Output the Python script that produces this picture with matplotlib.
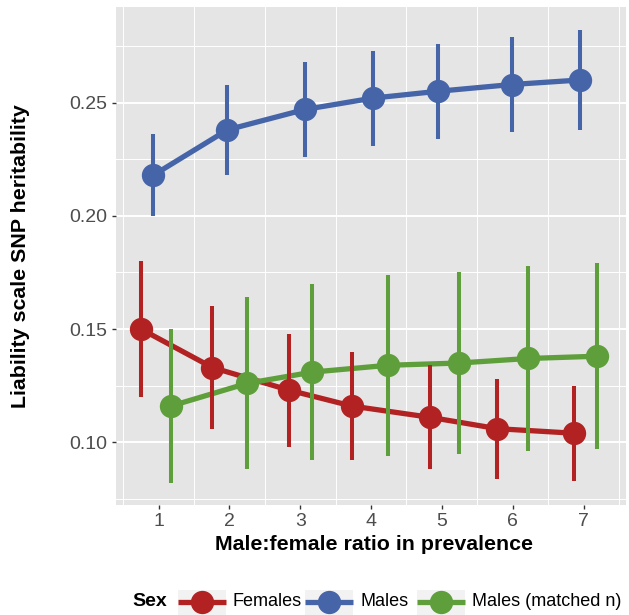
import numpy as np
import matplotlib.pyplot as plt
from matplotlib.patches import Rectangle

plt.rcParams['font.family'] = ['Liberation Sans', 'DejaVu Sans']

# ratio categories and the (jittered) x positions of each series
ratios = [1, 2, 3, 4, 5, 6, 7]
x_females = [0.752, 1.762, 2.845, 3.730, 4.839, 5.785, 6.863]
x_males = [0.929, 1.974, 3.071, 4.026, 4.943, 5.986, 6.952]
x_matched = [1.175, 2.248, 3.174, 4.238, 5.244, 6.214, 7.188]

# liability scale SNP heritability estimates with interval ends
h2_females = [0.150, 0.133, 0.123, 0.116, 0.111, 0.106, 0.104]
lo_females = [0.120, 0.106, 0.098, 0.092, 0.088, 0.084, 0.083]
hi_females = [0.180, 0.160, 0.148, 0.140, 0.134, 0.128, 0.125]

h2_males = [0.218, 0.238, 0.247, 0.252, 0.255, 0.258, 0.260]
lo_males = [0.200, 0.218, 0.226, 0.231, 0.234, 0.237, 0.238]
hi_males = [0.236, 0.258, 0.268, 0.273, 0.276, 0.279, 0.282]

h2_matched = [0.116, 0.126, 0.131, 0.134, 0.135, 0.137, 0.138]
lo_matched = [0.082, 0.088, 0.092, 0.094, 0.095, 0.096, 0.097]
hi_matched = [0.150, 0.164, 0.170, 0.174, 0.175, 0.178, 0.179]

labels = ['Females', 'Males', 'Males (matched n)']
colors = ['#B22222', '#4565A8', '#5E9F3B']

series = [
    (x_females, h2_females, lo_females, hi_females),
    (x_males, h2_males, lo_males, hi_males),
    (x_matched, h2_matched, lo_matched, hi_matched),
]

W, H = 629, 615
fig = plt.figure(figsize=(W / 100, H / 100), dpi=100)
ax = fig.add_axes([116 / W, (H - 505) / H, (626 - 116) / W, (505 - 7.3) / H])
ax.set_facecolor('#E5E5E5')
for s in ax.spines.values():
    s.set_visible(False)

ax.set_xlim(0.4, 7.6)
ax.set_ylim(0.0723, 0.2921)

# grid: white horizontal majors + minors, vertical minors only
for yv in [0.10, 0.15, 0.20, 0.25]:
    ax.axhline(yv, color='white', lw=1.4, zorder=0)
for yv in [0.075, 0.125, 0.175, 0.225, 0.275]:
    ax.axhline(yv, color='white', lw=0.7, zorder=0)
for xv in np.arange(0.5, 8.0, 1.0):
    ax.axvline(xv, color='white', lw=0.7, zorder=0)

for (xs, ys, lo, hi), c in zip(series, colors):
    ax.plot(xs, ys, color=c, lw=3.8, zorder=2, solid_capstyle='butt')
for (xs, ys, lo, hi), c in zip(series, colors):
    ax.vlines(xs, lo, hi, color=c, lw=2.9, zorder=3)
for (xs, ys, lo, hi), c in zip(series, colors):
    ax.plot(xs, ys, 'o', color=c, ms=16.8, mec='none', zorder=4)

ax.set_xticks(ratios)
ax.set_xticklabels([str(r) for r in ratios])
ax.set_yticks([0.10, 0.15, 0.20, 0.25])
ax.set_yticklabels(['0.10', '0.15', '0.20', '0.25'])
ax.tick_params(axis='both', length=3, width=1, color='#333333',
               labelcolor='#4D4D4D', labelsize=14, pad=3)

fig.text(374 / W, 1 - 545 / H, 'Male:female ratio in prevalence',
         ha='center', va='center', fontsize=15.4, fontweight='bold')
fig.text(21 / W, 1 - 256 / H, 'Liability scale SNP heritability',
         ha='center', va='center', rotation=90, fontsize=15.4,
         fontweight='bold')

# legend strip along the bottom, drawn in pixel units
lg = fig.add_axes([0, 0, 1, 25 / H])
lg.set_xlim(0, W)
lg.set_ylim(0, 25)
lg.axis('off')
lg.text(132, 13, 'Sex', ha='left', va='center', fontsize=14,
        fontweight='bold')
key_left = [178, 305, 417]
for kx, lab, c in zip(key_left, labels, colors):
    box = Rectangle((kx, 0), 48, 25, facecolor='#F2F2F2', edgecolor='none')
    lg.add_patch(box)
    lg.plot([kx, kx + 48], [13, 13], color=c, lw=3.8, solid_capstyle='butt',
            clip_path=box)
    lg.plot([kx + 24], [13], 'o', color=c, ms=16.8, mec='none', clip_path=box)
    lg.text(kx + 55, 13, lab, ha='left', va='center', fontsize=13,
            color='black')

fig.savefig('out.png', dpi=100)
